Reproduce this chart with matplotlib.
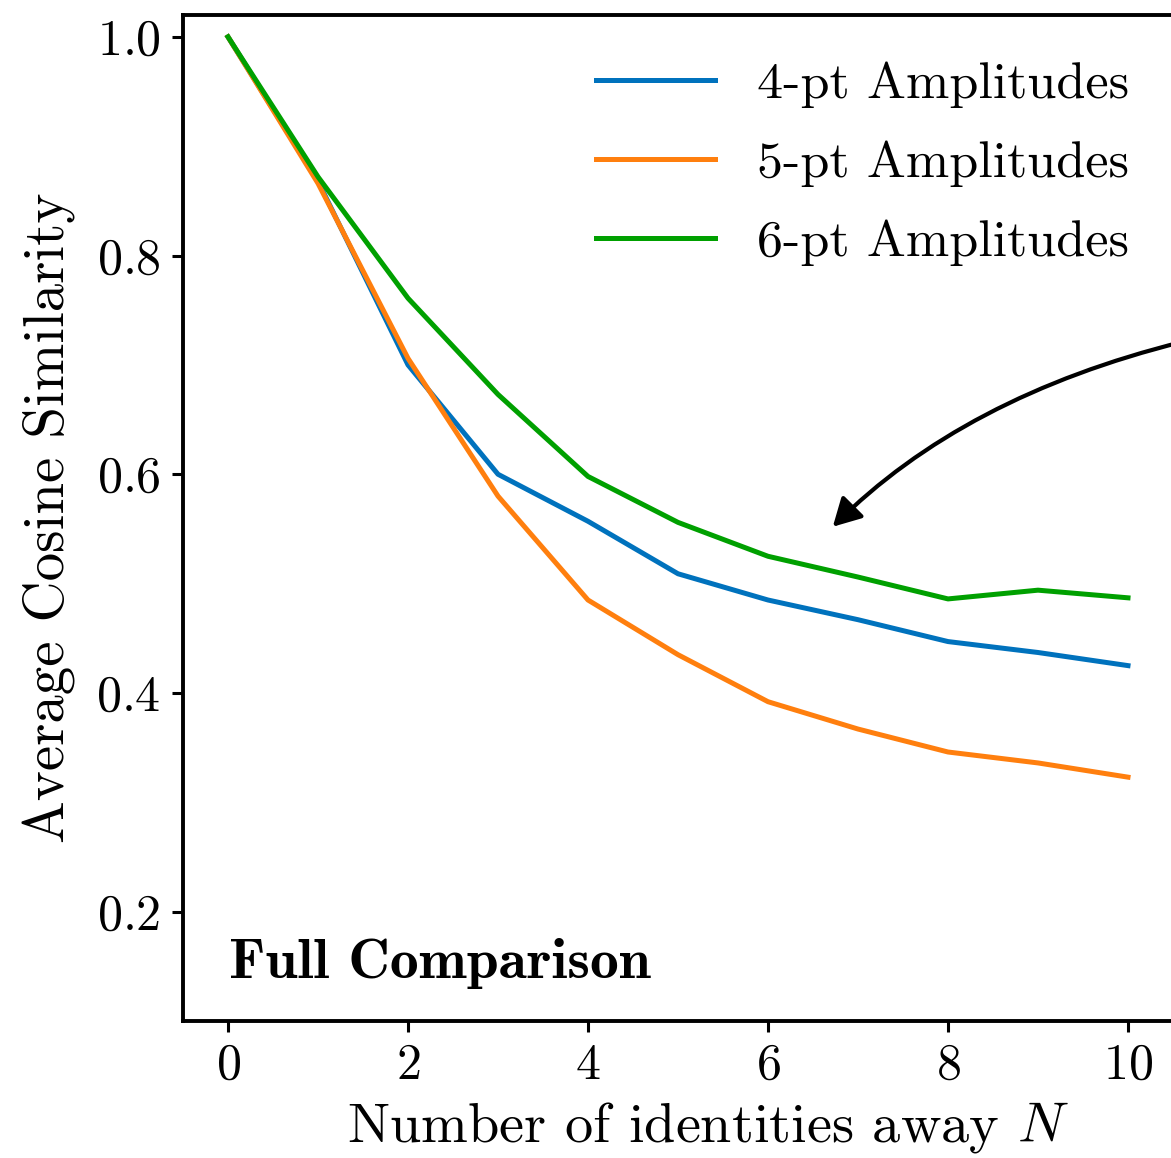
import numpy as np
import matplotlib
matplotlib.use("Agg")
import matplotlib.pyplot as plt

plt.rcParams["font.family"] = "cmr10"
plt.rcParams["mathtext.fontset"] = "cm"
plt.rcParams["axes.formatter.use_mathtext"] = True

# average cosine similarity vs. number of identities away
N = np.arange(0, 11)
sim_4pt = [1.0, 0.868, 0.700, 0.600, 0.557, 0.509, 0.485, 0.467, 0.447, 0.437, 0.425]
sim_5pt = [1.0, 0.866, 0.706, 0.580, 0.485, 0.435, 0.392, 0.367, 0.346, 0.336, 0.323]
sim_6pt = [1.0, 0.872, 0.761, 0.673, 0.598, 0.556, 0.525, 0.506, 0.486, 0.494, 0.487]

labels = ["4-pt Amplitudes", "5-pt Amplitudes", "6-pt Amplitudes"]
colors = ["#0072BD", "#FF7F0E", "#00A000"]

fig = plt.figure(figsize=(11.71, 11.58), dpi=100)
ax = fig.add_axes([183 / 1171, 137 / 1158, 990 / 1171, 1006 / 1158])

for y, lab, c in zip([sim_4pt, sim_5pt, sim_6pt], labels, colors):
    ax.plot(N, y, color=c, lw=3.6, label=lab)

ax.set_xlim(-0.5, 10.5)
ax.set_ylim(0.1, 1.02)
ax.set_xticks([0, 2, 4, 6, 8, 10])
ax.set_yticks([0.2, 0.4, 0.6, 0.8, 1.0])
ax.tick_params(labelsize=36, length=8, width=2.2, pad=8)
for s in ax.spines.values():
    s.set_linewidth(2.8)

ax.set_xlabel("Number of identities away $N$", fontsize=40.5)
ax.xaxis.set_label_coords(0.53, -0.079)
ax.set_ylabel("Average Cosine Similarity", fontsize=41, labelpad=15)

ax.legend(loc="upper right", fontsize=37.5, frameon=False, handlelength=2.3,
          handletextpad=0.8, labelspacing=0.62, borderaxespad=0.5,
          bbox_to_anchor=(1.003, 1.0))

ax.text(0.046, 0.043, "Full Comparison", transform=ax.transAxes,
        fontsize=41.5, family="cmb10")

# curved arrow pointing at the 6-pt curve
ax.annotate("", xy=(6.72, 0.552), xytext=(10.6, 0.721),
            arrowprops=dict(arrowstyle="-|>,head_length=0.4,head_width=0.22",
                            lw=3, color="black", mutation_scale=42,
                            shrinkA=0, shrinkB=0,
                            connectionstyle="angle3,angleA=14,angleB=45"),
            annotation_clip=False)

fig.savefig("out.png", dpi=100)
